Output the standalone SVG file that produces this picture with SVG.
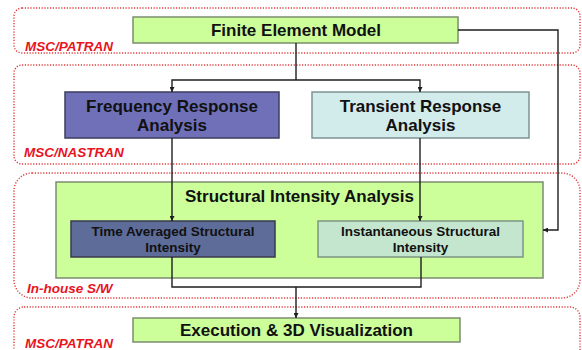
<svg xmlns="http://www.w3.org/2000/svg" width="582" height="350" viewBox="0 0 582 350">
  <style>
    .zone { fill: none; stroke: #e23a3a; stroke-width: 1.4; stroke-dasharray: 1.2 1.6; }
    .zlabel { font-family: "Liberation Sans", Arial, sans-serif; font-weight: bold; font-style: italic; font-size: 13.5px; fill: #e8141e; }
    .big { font-family: "Liberation Sans", Arial, sans-serif; font-weight: bold; font-size: 17px; fill: #111; text-anchor: middle; }
    .small { font-family: "Liberation Sans", Arial, sans-serif; font-weight: bold; font-size: 13.5px; fill: #111; text-anchor: middle; }
    .green { fill: #ccff99; stroke: #7d8c70; stroke-width: 1.5; }
    .conn { fill: none; stroke: #1e1e1e; stroke-width: 1.4; }
  </style>
  <defs>
    <marker id="arrow" viewBox="0 0 8 8" refX="8" refY="4" markerWidth="5" markerHeight="5" markerUnits="userSpaceOnUse" orient="auto">
      <path d="M0 0 L8 4 L0 8 Z" fill="#1e1e1e"/>
    </marker>
  </defs>

  <rect width="582" height="350" fill="#ffffff"/>

  <!-- tool zones -->
  <g id="zone-patran-top">
    <rect class="zone" x="14" y="8" width="566" height="45" rx="8"/>
    <text class="zlabel" x="25" y="51">MSC/PATRAN</text>
  </g>
  <g id="zone-nastran">
    <rect class="zone" x="14" y="65" width="566" height="99" rx="8"/>
    <text class="zlabel" x="24" y="157">MSC/NASTRAN</text>
  </g>
  <g id="zone-inhouse">
    <rect class="zone" x="14" y="173" width="566" height="125" rx="18"/>
    <text class="zlabel" x="27" y="293">In-house S/W</text>
  </g>
  <g id="zone-patran-bottom">
    <rect class="zone" x="14" y="307" width="566" height="60" rx="10"/>
    <text class="zlabel" x="25" y="348">MSC/PATRAN</text>
  </g>

  <!-- nodes -->
  <g id="fem">
    <rect class="green" x="133" y="17" width="325" height="26"/>
    <text class="big" x="296" y="36">Finite Element Model</text>
  </g>
  <g id="frequency">
    <rect x="65" y="92" width="214" height="46" fill="#7070b8" stroke="#3c3c5c" stroke-width="1.5"/>
    <text class="big" x="172" y="111.5">Frequency Response</text>
    <text class="big" x="172" y="131">Analysis</text>
  </g>
  <g id="transient">
    <rect x="312" y="92" width="217" height="46" fill="#d2ecec" stroke="#7f9292" stroke-width="1.5"/>
    <text class="big" x="420.5" y="111.5">Transient Response</text>
    <text class="big" x="420.5" y="131">Analysis</text>
  </g>
  <g id="sia">
    <rect class="green" x="56" y="182" width="487" height="96"/>
    <text class="big" x="299.5" y="202">Structural Intensity Analysis</text>
  </g>
  <g id="time-averaged">
    <rect x="71" y="221" width="204" height="36" fill="#5e6c9a" stroke="#3a3a4c" stroke-width="1.5"/>
    <text class="small" x="173" y="236">Time Averaged Structural</text>
    <text class="small" x="173" y="252">Intensity</text>
  </g>
  <g id="instantaneous">
    <rect x="318" y="221" width="205" height="36" fill="#c4e6cf" stroke="#7d9585" stroke-width="1.5"/>
    <text class="small" x="420.5" y="236">Instantaneous Structural</text>
    <text class="small" x="420.5" y="252">Intensity</text>
  </g>
  <g id="execution">
    <rect class="green" x="133" y="318" width="327" height="24"/>
    <text class="big" x="296.5" y="336">Execution &amp; 3D Visualization</text>
  </g>

  <!-- connectors -->
  <g id="connectors">
    <path class="conn" d="M296 43 V80"/>
    <path class="conn" d="M296 80 H172 V92" marker-end="url(#arrow)"/>
    <path class="conn" d="M296 80 H420 V92" marker-end="url(#arrow)"/>
    <path class="conn" d="M458 30 H558 V230 H543" marker-end="url(#arrow)"/>
    <path class="conn" d="M172 138 V221" marker-end="url(#arrow)"/>
    <path class="conn" d="M420 138 V221" marker-end="url(#arrow)"/>
    <path class="conn" d="M172 257 V287 H421 V257"/>
    <path class="conn" d="M296 287 V318" marker-end="url(#arrow)"/>
  </g>
</svg>
